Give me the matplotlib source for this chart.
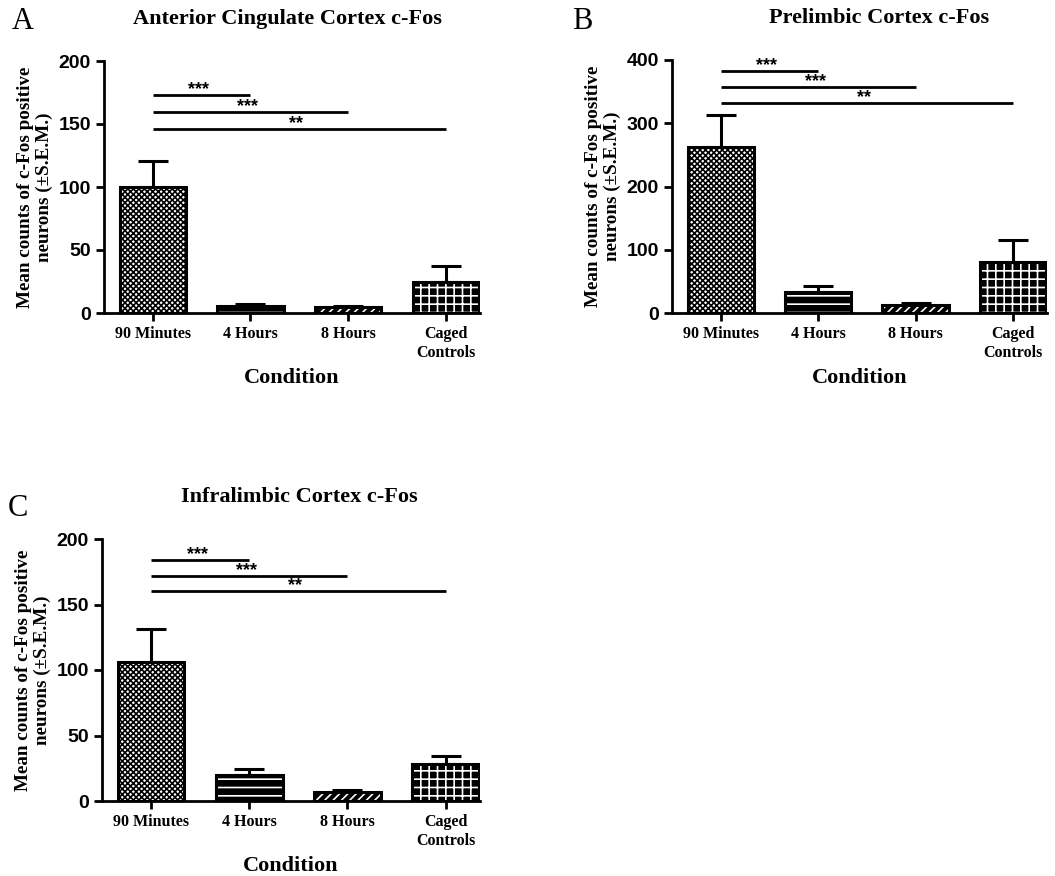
import matplotlib.pyplot as plt

conditions = ['90 Minutes', '4 Hours', '8 Hours', 'Caged\nControls']

acc_mean = [100, 5.5, 4.5, 24.5]
acc_sem = [21, 1.5, 1.0, 12.5]
pl_mean = [262, 33, 12.5, 80]
pl_sem = [51, 10, 3.5, 35]
il_mean = [106, 20, 7, 28.5]
il_sem = [25, 4.6, 1.5, 6]

sig_labels = ['***', '***', '**']
acc_sig_y = [173, 159.5, 146]
pl_sig_y = [382, 357, 332]
il_sig_y = [184, 172, 160]

serif = 'Liberation Serif'
sans = 'Liberation Sans'

plt.rcParams['hatch.linewidth'] = 1.2

# (facecolor, hatch colour, hatch)
styles = [('white', 'black', 'xxxxxx'),
          ('black', 'white', '--'),
          ('black', 'white', '////'),
          ('black', 'white', '++')]


def panel(fig, rect, means, sems, sig_y, ymax, step, title, title_x, letter, letter_xy):
    ax = fig.add_axes(rect)
    x = range(len(conditions))
    for i in x:
        fc, hc, h = styles[i]
        ax.bar(i, means[i], width=0.68, color=fc, edgecolor=hc, hatch=h, linewidth=0, zorder=2)
        ax.bar(i, means[i], width=0.68, fill=False, edgecolor='black', linewidth=2.2, zorder=3)
    ax.errorbar(list(x), means, yerr=[[0] * len(means), sems], fmt='none', ecolor='black',
                elinewidth=2.2, capsize=11, capthick=2.2, zorder=1)
    for k, (yy, lab) in enumerate(zip(sig_y, sig_labels)):
        ax.plot([0, k + 1], [yy, yy], color='black', lw=2, solid_capstyle='butt')
        ax.text((k + 1) / 2 - 0.03, yy - ymax * 0.012, lab, ha='center', va='bottom',
                fontsize=13, fontweight='bold', family=sans)
    ax.set_xlim(-0.5, 3.35)
    ax.set_ylim(0, ymax)
    ax.set_yticks(range(0, ymax + 1, step))
    ax.spines['top'].set_visible(False)
    ax.spines['right'].set_visible(False)
    ax.spines['left'].set_linewidth(2)
    ax.spines['bottom'].set_linewidth(2)
    ax.tick_params(width=2, length=6)
    ax.set_xticks(list(x))
    ax.set_xticklabels(conditions, fontsize=11.5, fontweight='bold', family=serif, linespacing=1.2)
    for t in ax.get_yticklabels():
        t.set_fontsize(14)
        t.set_fontweight('bold')
        t.set_family(sans)
    ax.set_ylabel('Mean counts of c-Fos positive\nneurons (\u00b1S.E.M.)', fontsize=13.8,
                  fontweight='bold', family=serif, labelpad=4, linespacing=1.1)
    ax.set_xlabel('Condition', fontsize=16, fontweight='bold', family=serif, labelpad=5)
    fig.text(title_x, rect[1] + rect[3] + 0.036, title, ha='center', va='bottom',
             fontsize=16, fontweight='bold', family=serif)
    fig.text(letter_xy[0], letter_xy[1], letter, ha='left', va='top', fontsize=22, family=serif)
    return ax


fig = plt.figure(figsize=(10.55, 8.76), dpi=100)
W, H = 1055, 876

panel(fig, [104 / W, 1 - 313 / H, 376 / W, 252 / H], acc_mean, acc_sem, acc_sig_y, 200, 50,
      'Anterior Cingulate Cortex c-Fos', 287 / W, 'A', (12 / W, 1 - 7 / H))
panel(fig, [672 / W, 1 - 313 / H, 375 / W, 253 / H], pl_mean, pl_sem, pl_sig_y, 400, 100,
      'Prelimbic Cortex c-Fos', 879 / W, 'B', (572 / W, 1 - 7 / H))
panel(fig, [102 / W, 1 - 801 / H, 378 / W, 262 / H], il_mean, il_sem, il_sig_y, 200, 50,
      'Infralimbic Cortex c-Fos', 299 / W, 'C', (8 / W, 1 - 494 / H))

fig.savefig('out.png', dpi=100)
